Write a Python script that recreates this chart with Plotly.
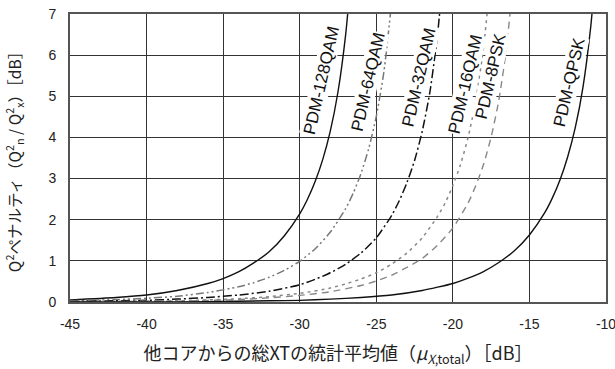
import plotly.graph_objects as go

# Q-penalty versus total mean inter-core crosstalk, per modulation format
xt_128qam = [-45, -42, -40, -38, -36, -35, -34, -33, -32, -31, -30, -29.5, -29, -28.5, -28, -27.5, -27, -26.75]
pen_128qam = [0.05, 0.11, 0.17, 0.28, 0.45, 0.57, 0.73, 0.95, 1.22, 1.61, 2.14, 2.49, 2.92, 3.46, 4.16, 5.11, 6.50, 7.50]

xt_64qam = [-45, -42, -40, -38, -36, -34, -33, -32, -31, -30, -29, -28, -27, -26.5, -26, -25.5, -25, -24.5, -24]
pen_64qam = [0.03, 0.06, 0.09, 0.14, 0.23, 0.37, 0.47, 0.60, 0.77, 0.99, 1.29, 1.70, 2.27, 2.65, 3.12, 3.72, 4.51, 5.60, 7.28]

xt_32qam = [-45, -42, -40, -38, -36, -34, -32, -30, -29, -28, -27, -26, -25, -24, -23.5, -23, -22.5, -22, -21.5, -21, -20.75]
pen_32qam = [0.01, 0.03, 0.04, 0.07, 0.11, 0.17, 0.26, 0.42, 0.55, 0.71, 0.92, 1.19, 1.56, 2.10, 2.46, 2.90, 3.44, 4.15, 5.10, 6.50, 7.50]

xt_16qam = [-45, -42, -40, -38, -36, -34, -32, -30, -28, -27, -26, -25, -24, -23, -22, -21, -20.5, -20, -19.5, -19, -18.5, -18, -17.75]
pen_16qam = [0.01, 0.01, 0.02, 0.03, 0.05, 0.08, 0.13, 0.21, 0.34, 0.44, 0.56, 0.71, 0.92, 1.19, 1.56, 2.08, 2.41, 2.83, 3.34, 4.01, 4.90, 6.17, 7.07]

xt_8psk = [-45, -42, -40, -38, -36, -34, -32, -30, -28, -26, -25, -24, -23, -22, -21, -20, -19, -18.5, -18, -17.5, -17, -16.5, -16.2]
pen_8psk = [0.01, 0.01, 0.02, 0.02, 0.04, 0.06, 0.10, 0.16, 0.25, 0.40, 0.51, 0.65, 0.84, 1.06, 1.38, 1.80, 2.41, 2.83, 3.34, 4.01, 4.90, 6.17, 7.28]

xt_qpsk = [-45, -40, -36, -32, -30, -28, -26, -24, -22, -21, -20, -19, -18, -17, -16, -15, -14, -13.5, -13, -12.5, -12, -11.5, -11, -10.8]
pen_qpsk = [0.00, 0.00, 0.01, 0.03, 0.04, 0.07, 0.11, 0.17, 0.28, 0.36, 0.45, 0.58, 0.74, 0.96, 1.24, 1.63, 2.17, 2.53, 2.97, 3.53, 4.25, 5.23, 6.68, 7.50]

x_ticks = [-45, -40, -35, -30, -25, -20, -15, -10]
x_tick_text = ["-45", "-40", "-35", "-30", "-25", "-20", "-15", "-10"]
y_ticks = [0, 1, 2, 3, 4, 5, 6, 7]

series = [
    ("PDM-128QAM", xt_128qam, pen_128qam, "#111111", "solid", 1.4),
    ("PDM-64QAM", xt_64qam, pen_64qam, "#777777", "8px,3px,2px,3px,2px,3px", 1.5),
    ("PDM-32QAM", xt_32qam, pen_32qam, "#111111", "9px,3px,2px,3px", 1.5),
    ("PDM-16QAM", xt_16qam, pen_16qam, "#888888", "3px,4px", 1.5),
    ("PDM-8PSK", xt_8psk, pen_8psk, "#888888", "7px,5px", 1.4),
    ("PDM-QPSK", xt_qpsk, pen_qpsk, "#111111", "solid", 1.4),
]

# rotated curve labels (x, y in data units)
label_x = [-28.55, -25.5, -22.2, -19.15, -17.5, -12.36]
label_y = [5.4, 5.35, 5.45, 5.3, 5.5, 5.35]

fig = go.Figure()
for name, xs, ys, color, dash, w in series:
    fig.add_trace(go.Scatter(
        x=xs, y=ys, mode="lines", name=name,
        line=dict(color=color, dash=dash, width=w, shape="spline", smoothing=0.6),
        showlegend=False, cliponaxis=True,
    ))

for (name, *_), lx, ly in zip(series, label_x, label_y):
    fig.add_annotation(
        x=lx, y=ly, text=name, showarrow=False, textangle=-77,
        font=dict(family="Liberation Sans, Arial, sans-serif", size=17, color="#111111"),
        bgcolor="white", borderpad=0,
    )

axis_font = dict(family="Liberation Sans, Arial, sans-serif", size=14, color="#222222")

fig.update_xaxes(
    range=[-45, -10], tickvals=x_ticks, ticktext=x_tick_text,
    showgrid=True, gridcolor="#333333", gridwidth=1,
    showline=True, linecolor="#555555", linewidth=2, mirror=True,
    zeroline=False, ticks="", tickfont=axis_font,
    ticklabelstandoff=8, ticklabeloverflow="allow", automargin=False,
    title=dict(text="他コアからの総XTの統計平均値（<i>μ</i><sub><i>X</i>,total</sub>）［dB］",
               font=dict(family="Noto Sans CJK JP, sans-serif", size=18, color="#222222"),
               standoff=17),
)
fig.update_yaxes(
    range=[0, 7], tickvals=y_ticks,
    showgrid=True, gridcolor="#333333", gridwidth=1,
    showline=True, linecolor="#555555", linewidth=2, mirror=True,
    zeroline=False, ticks="", tickfont=axis_font,
    ticklabelstandoff=9, automargin=False,
    title=dict(text="Q<sup>2</sup>ペナルティ（Q<sup>2</sup><sub>n</sub> / Q<sup>2</sup><sub>x</sub>）［dB］",
               font=dict(family="Noto Sans CJK JP, sans-serif", size=15.5, color="#222222"),
               standoff=23),
)

fig.update_layout(
    width=615, height=369,
    margin=dict(l=70, r=9, t=14, b=67),
    plot_bgcolor="white", paper_bgcolor="white",
)

fig.write_html("out.html")
